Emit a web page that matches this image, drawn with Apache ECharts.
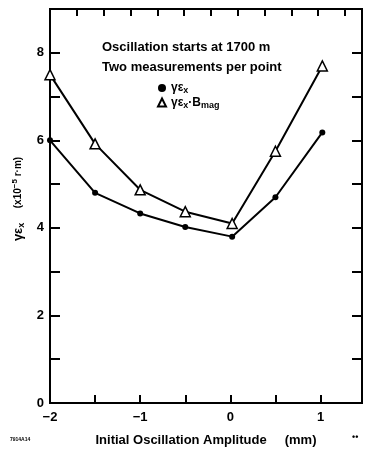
<!DOCTYPE html>
<html>
<head>
<meta charset="utf-8">
<script src="https://cdn.jsdelivr.net/npm/echarts@6/dist/echarts.min.js"></script>
<style>html,body{margin:0;padding:0;background:#fff}#c{width:365px;height:453px}</style>
</head>
<body>
<div id="c"></div>
<script>
var amplitudes = [-2, -1.5, -1, -0.5, 0.02, 0.5, 1.02];
var gammaEps = [6.0, 4.8, 4.33, 4.02, 3.8, 4.7, 6.18];
var gammaEpsBmag = [7.5, 5.92, 4.87, 4.37, 4.1, 5.75, 7.7];
var titleLines = ['Oscillation starts at 1700 m', 'Two measurements per point'];
var xTickLabels = [-2, -1, 0, 1];
var yTickLabels = [0, 2, 4, 6, 8];

function pairs(xs, ys) { return xs.map(function (x, i) { return [x, ys[i]]; }); }

var font = 'Liberation Sans, Arial, sans-serif';
var chart = echarts.init(document.getElementById('c'), null, {renderer: 'canvas'});
var rich = {
  sub: {fontSize: 9, fontWeight: 'bold', fontFamily: font, verticalAlign: 'bottom', padding: [6, 0, 0, 0], color: '#000'},
  sup: {fontSize: 8, fontWeight: 'bold', fontFamily: font, verticalAlign: 'top', padding: [0, 0, 6, 0], color: '#000'},
  sm: {fontSize: 10, fontWeight: 'bold', fontFamily: font, color: '#000'}
};
chart.setOption({
  animation: false,
  backgroundColor: '#fff',
  title: {
    text: titleLines.join('\n'),
    left: 97, top: 32,
    textStyle: {fontFamily: font, fontWeight: 'bold', fontSize: 13, lineHeight: 20, color: '#000'},
    textAlign: 'left'
  },
  legend: {
    orient: 'vertical', left: 152, top: 77, itemGap: 1, itemWidth: 8, itemHeight: 8,
    textStyle: {fontFamily: font, fontWeight: 'bold', fontSize: 12, color: '#000', rich: rich},
    data: [{name: 'a', icon: 'circle', itemStyle: {color: '#000'}}, {name: 'b', icon: 'triangle'}],
    formatter: function (n) { return n === 'a' ? 'γε{sub|x}' : 'γε{sub|x}·B{sub|mag}'; }
  },
  grid: {left: 50, right: 2, top: 9, bottom: 50, show: true, borderColor: '#000', borderWidth: 2},
  xAxis: [{
    type: 'value', min: -2, max: 1.46, interval: 0.5, position: 'bottom',
    name: 'Initial Oscillation Amplitude     (mm)', nameLocation: 'middle', nameGap: 31,
    nameTextStyle: {fontFamily: font, fontWeight: 'bold', fontSize: 13, color: '#000'},
    axisLine: {onZero: false, lineStyle: {color: '#000', width: 2}},
    axisTick: {inside: true, length: 8, lineStyle: {color: '#000', width: 2}},
    splitLine: {show: false},
    axisLabel: {fontFamily: font, fontWeight: 'bold', fontSize: 13, color: '#000', margin: 8,
      formatter: function (v) { return xTickLabels.indexOf(v) >= 0 ? (v < 0 ? '\u2212' + (-v) : String(v)) : ''; }}
  }, {
    type: 'value', min: -2.03, max: 1.46, interval: 0.3, position: 'top',
    axisLine: {show: false, onZero: false},
    axisTick: {inside: true, length: 7, lineStyle: {color: '#000', width: 2}},
    axisLabel: {show: false}, splitLine: {show: false}
  }],
  yAxis: [{
    type: 'value', min: 0, max: 9, interval: 1, position: 'left',
    name: 'γε{sub|x}    {sm|(x10}{sup|−5}{sm| r·m)}', nameLocation: 'middle', nameGap: 22, nameRotate: 90,
    nameTextStyle: {fontFamily: font, fontWeight: 'bold', fontSize: 13, color: '#000', rich: rich, padding: [0, 0, 0, 14]},
    axisLine: {onZero: false, lineStyle: {color: '#000', width: 2}},
    axisTick: {inside: true, length: 10, lineStyle: {color: '#000', width: 2}},
    splitLine: {show: false},
    axisLabel: {fontFamily: font, fontWeight: 'bold', fontSize: 13, color: '#000', margin: 6,
      formatter: function (v) { return yTickLabels.indexOf(v) >= 0 ? String(v) : ''; }}
  }, {
    type: 'value', min: 0, max: 9, interval: 1, position: 'right',
    axisLine: {show: false, onZero: false},
    axisTick: {inside: true, length: 10, lineStyle: {color: '#000', width: 2}},
    axisLabel: {show: false}, splitLine: {show: false}
  }],
  graphic: [
    {type: 'text', left: 10, top: 437, style: {text: '7914A14', font: 'bold 5px ' + font, fill: '#000'}},
    {type: 'text', left: 352, top: 433, style: {text: '••', font: 'bold 9px ' + font, fill: '#000'}}
  ],
  series: [{
    name: 'a', type: 'line', data: pairs(amplitudes, gammaEps),
    symbol: 'circle', symbolSize: 6,
    lineStyle: {color: '#000', width: 2},
    itemStyle: {color: '#000'}
  }, {
    name: 'b', type: 'line', data: pairs(amplitudes, gammaEpsBmag),
    symbol: 'triangle', symbolSize: 10,
    lineStyle: {color: '#000', width: 2},
    itemStyle: {color: '#fff', borderColor: '#000', borderWidth: 1.5}
  }]
});
</script>
</body>
</html>
